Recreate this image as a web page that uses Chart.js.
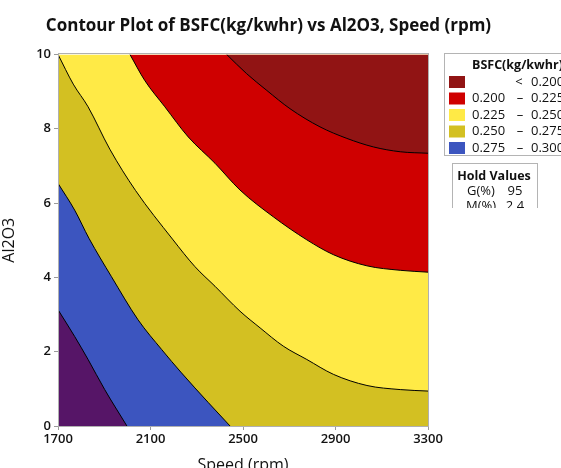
<!DOCTYPE html>
<html>
<head>
<meta charset="utf-8">
<script src="https://cdn.jsdelivr.net/npm/chart.js@4"></script>
<style>
  html, body { margin: 0; padding: 0; background: #fff; }
  #wrap { position: relative; width: 561px; height: 468px; }
</style>
</head>
<body>
<div id="wrap"><canvas id="c" width="561" height="468"></canvas></div>
<script>
// contour levels and band colours (darkest red = lowest BSFC)
const levels = ['< 0.200', '0.200 – 0.225', '0.225 – 0.250', '0.250 – 0.275', '0.275 – 0.300'];
const bandColors = ['#911414', '#cf0000', '#ffea46', '#d3c022', '#3c55bf', '#561567'];

// contour lines: [speed (rpm), Al2O3]
const c200 = [[2429,10],[2516,9.48],[2603,9.03],[2703,8.54],[2833,8.05],[2949,7.74],[3064,7.51],[3180,7.38],[3300,7.34]];
const c225 = [[2011,10],[2075,9.30],[2162,8.59],[2263,7.78],[2379,7.07],[2487,6.35],[2631,5.63],[2776,5.01],[2891,4.61],[3036,4.31],[3180,4.19],[3300,4.14]];
const c250 = [[1700,10],[1766,9.2],[1830,8.59],[1924,7.45],[2035,6.34],[2195,5.03],[2292,4.29],[2379,3.76],[2487,3.09],[2574,2.64],[2674,2.15],[2776,1.79],[2891,1.39],[3036,1.09],[3180,0.98],[3300,0.94]];
const c275 = [[1700,6.53],[1772,5.81],[1834,5.05],[1931,4.02],[2046,2.86],[2148,2.06],[2234,1.43],[2350,0.63],[2444,0]];
const c300 = [[1700,3.13],[1772,2.41],[1830,1.79],[1902,0.98],[1998,0]];

const xTicks = [1700, 2100, 2500, 2900, 3300];
const yTicks = [0, 2, 4, 6, 8, 10];
const holdNames = ['G(%)', 'M(%)'];
const holdVals = ['95', '2.4'];

const pts = a => a.map(p => ({x: p[0], y: p[1]}));

// each contour line fills toward the top ('end') or the bottom ('origin')
function band(line, color, fill, order, edge) {
  return {
    data: pts(line),
    backgroundColor: color,
    borderColor: edge ? '#000' : 'transparent',
    borderWidth: edge ? 1 : 0,
    pointRadius: 0,
    fill: fill,
    order: order,
    cubicInterpolationMode: 'monotone'
  };
}

const datasets = [
  band([[1700,0],[3300,0]], bandColors[3], 'end', 10, false), // background band 0.250-0.275
  band(c250, bandColors[2], 'end', 9, true),
  band(c225, bandColors[1], 'end', 8, true),
  band(c200, bandColors[0], 'end', 7, true),
  band(c275, bandColors[4], 'origin', 6, true),
  band(c300, bandColors[5], 'origin', 5, true)
];

const FONT = '"Open Sans", "Noto Sans", sans-serif';

// grey frame around the plot area
const frame = {
  id: 'frame',
  afterDatasetsDraw(chart) {
    const a = chart.chartArea, ctx = chart.ctx;
    ctx.save();
    ctx.strokeStyle = '#b0b0b0';
    ctx.lineWidth = 1;
    ctx.strokeRect(Math.round(a.left) + 0.5, Math.round(a.top) - 0.5, Math.round(a.right - a.left), Math.round(a.bottom - a.top) + 1);
    ctx.restore();
  }
};

const sideBoxes = {
  id: 'sideBoxes',
  afterDraw(chart) {
    const ctx = chart.ctx;
    ctx.save();
    // legend box
    ctx.strokeStyle = '#b4b4b4';
    ctx.lineWidth = 1;
    ctx.fillStyle = '#fff';
    ctx.fillRect(444.5, 53.5, 130, 102);
    ctx.strokeRect(444.5, 53.5, 130, 102);
    ctx.fillStyle = '#111';
    ctx.font = 'bold 12.5px ' + FONT;
    ctx.textBaseline = 'middle';
    ctx.textAlign = 'left';
    ctx.fillText('BSFC(kg/kwhr)', 472, 65);
    ctx.font = '13px ' + FONT;
    levels.forEach((lab, i) => {
      const y = 82 + i * 16.5;
      ctx.fillStyle = bandColors[i];
      ctx.fillRect(449, y - 6, 16, 12);
      ctx.fillStyle = '#111';
      const parts = lab.split(' ');
      if (parts[0] === '<') {
        ctx.textAlign = 'center';
        ctx.fillText('<', 519, y);
        ctx.textAlign = 'left';
        ctx.fillText(parts[1], 531, y);
      } else {
        ctx.textAlign = 'left';
        ctx.fillText(parts[0], 472, y);
        ctx.textAlign = 'center';
        ctx.fillText(parts[1], 520, y);
        ctx.textAlign = 'left';
        ctx.fillText(parts[2], 531, y);
      }
    });
    // hold values box (cut off at the bottom as in the source)
    ctx.beginPath();
    ctx.rect(452, 163, 86, 45);
    ctx.clip();
    ctx.fillStyle = '#fff';
    ctx.fillRect(452.5, 163.5, 85, 60);
    ctx.strokeStyle = '#b4b4b4';
    ctx.strokeRect(452.5, 163.5, 85, 60);
    ctx.fillStyle = '#111';
    ctx.textAlign = 'center';
    ctx.font = 'bold 12.5px ' + FONT;
    ctx.fillText('Hold Values', 494, 176);
    ctx.font = '13px ' + FONT;
    holdNames.forEach((n, i) => {
      const y = 191 + i * 15;
      ctx.fillText(n, 481, y);
      ctx.fillText(holdVals[i], 515, y);
    });
    ctx.restore();
  }
};

new Chart(document.getElementById('c'), {
  type: 'line',
  data: { datasets },
  plugins: [frame, sideBoxes],
  options: {
    responsive: false,
    animation: false,
    events: [],
    layout: { padding: { left: 0, right: 24, top: 0, bottom: 0 } },
    plugins: {
      legend: { display: false },
      tooltip: { enabled: false },
      title: {
        display: true,
        text: 'Contour Plot of BSFC(kg/kwhr) vs Al2O3, Speed (rpm)',
        color: '#111',
        font: { family: FONT, size: 17, weight: 'bold' },
        padding: { top: 16, bottom: 18 }
      }
    },
    scales: {
      x: {
        type: 'linear', min: 1700, max: 3300,
        afterBuildTicks: s => { s.ticks = xTicks.map(v => ({value: v})); },
        afterFit: s => { s.height = 42; },
        grid: { display: true, drawOnChartArea: false, tickLength: 4, color: '#9a9a9a' },
        border: { color: '#b0b0b0' },
        ticks: { color: '#111', font: { family: FONT, size: 13, weight: '600' }, padding: 1, maxRotation: 0, callback: v => String(v) },
        title: { display: true, text: 'Speed (rpm)', color: '#111', font: { family: FONT, size: 16 }, padding: { top: 0, bottom: -7 } }
      },
      y: {
        type: 'linear', min: 0, max: 10,
        afterBuildTicks: s => { s.ticks = yTicks.map(v => ({value: v})); },
        afterFit: s => { s.width = 58; },
        grid: { display: true, drawOnChartArea: false, tickLength: 4, color: '#9a9a9a' },
        border: { color: '#b0b0b0' },
        ticks: { color: '#111', font: { family: FONT, size: 13, weight: '600' }, padding: 3, callback: v => String(v) },
        title: { display: true, text: 'Al2O3', color: '#111', font: { family: FONT, size: 16 }, padding: { top: 0, bottom: 4 } }
      },
      yR: {
        position: 'right', type: 'linear', min: 0, max: 10,
        afterFit: s => { s.width = 109; },
        grid: { display: false },
        border: { display: false },
        ticks: { display: false }
      }
    }
  }
});
</script>
</body>
</html>
